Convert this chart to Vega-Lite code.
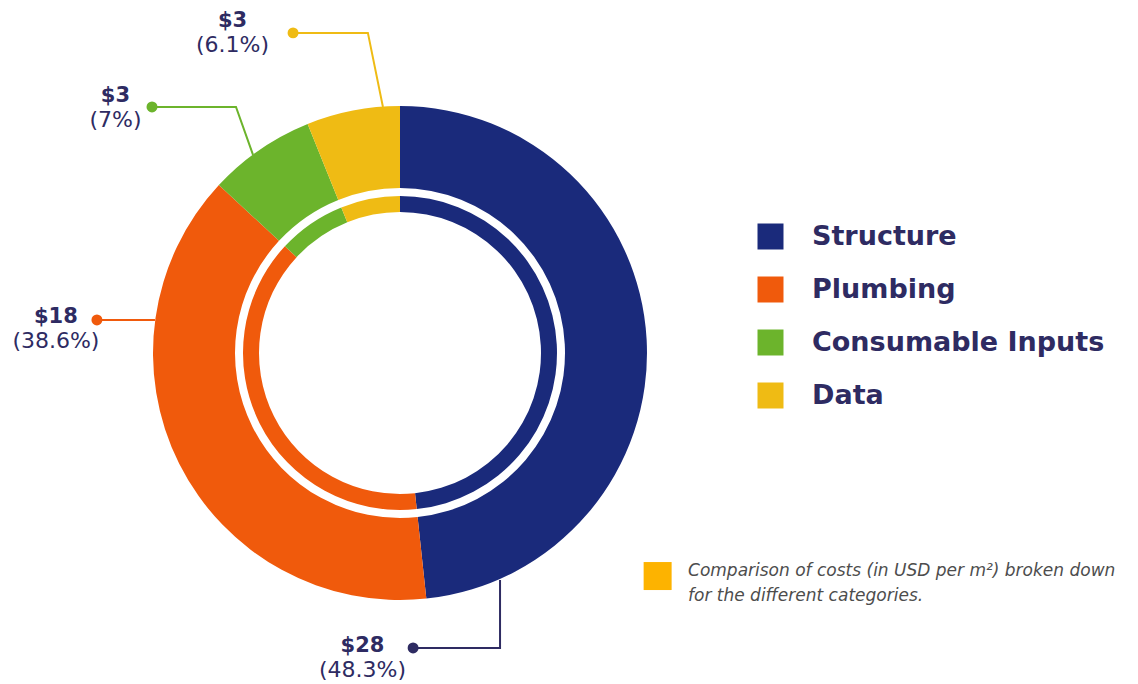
{
  "$schema": "https://vega.github.io/schema/vega-lite/v6.json",
  "width": 800,
  "height": 600,
  "autosize": {"type": "none"},
  "padding": {"left": 0, "top": 53, "right": 338, "bottom": 31},
  "background": "white",
  "config": {"view": {"stroke": null}, "font": "DejaVu Sans"},
  "datasets": {
    "costs": [
      {"category": "Structure", "cost": 28, "pct": 48.3},
      {"category": "Plumbing", "cost": 18, "pct": 38.6},
      {"category": "Consumable Inputs", "cost": 3, "pct": 7},
      {"category": "Data", "cost": 3, "pct": 6.1}
    ],
    "leaders": [
      {"category": "Data", "step": 0, "lx": -43.3, "ly": 129.6},
      {"category": "Data", "step": 1, "lx": -13.0, "ly": 129.6},
      {"category": "Data", "step": 2, "lx": -6.9, "ly": 99.6},
      {"category": "Consumable Inputs", "step": 0, "lx": -100.4, "ly": 99.6},
      {"category": "Consumable Inputs", "step": 1, "lx": -66.4, "ly": 99.6},
      {"category": "Consumable Inputs", "step": 2, "lx": -59.5, "ly": 80.2},
      {"category": "Plumbing", "step": 0, "lx": -122.7, "ly": 13.4},
      {"category": "Plumbing", "step": 1, "lx": -99.2, "ly": 13.4},
      {"category": "Structure", "step": 0, "lx": 5.3, "ly": -119.4},
      {"category": "Structure", "step": 1, "lx": 40.5, "ly": -119.4},
      {"category": "Structure", "step": 2, "lx": 40.5, "ly": -91.9}
    ],
    "labels": [
      {"category": "Data", "lx": -67.8, "ly": 129.4},
      {"category": "Consumable Inputs", "lx": -115.2, "ly": 99.0},
      {"category": "Plumbing", "lx": -139.3, "ly": 9.7},
      {"category": "Structure", "lx": -15.2, "ly": -123.5}
    ],
    "note": [
      {"text": "Comparison of costs (in USD per m²) broken down\nfor the different categories.", "boxx": 104.3, "boxy": -90.3, "tx": 116.6, "ty": -85.0}
    ]
  },
  "layer": [
    {
      "data": {"name": "costs"},
      "mark": {"type": "arc", "outerRadius": 247, "innerRadius": 165, "strokeWidth": 0},
      "encoding": {
        "theta": {"field": "pct", "type": "quantitative", "stack": true},
        "order": {"field": "pct", "sort": "descending"},
        "color": {
          "field": "category",
          "type": "nominal",
          "scale": {
            "domain": ["Structure", "Plumbing", "Consumable Inputs", "Data"],
            "range": ["#1a2a7b", "#f05a0c", "#6cb42c", "#efbb14"]
          },
          "legend": {
            "orient": "none",
            "legendX": 757,
            "legendY": 170,
            "title": null,
            "symbolType": "square",
            "symbolSize": 676,
            "symbolStrokeWidth": 0,
            "labelFontSize": 27,
            "labelFont": "DejaVu Sans",
            "labelFontWeight": "bold",
            "labelColor": "#2e2b62",
            "labelOffset": 28,
            "labelLimit": 500,
            "rowPadding": 25
          }
        }
      }
    },
    {
      "data": {"name": "costs"},
      "mark": {"type": "arc", "outerRadius": 157, "innerRadius": 141, "strokeWidth": 0},
      "encoding": {
        "theta": {"field": "pct", "type": "quantitative", "stack": true},
        "order": {"field": "pct", "sort": "descending"},
        "color": {"field": "category", "type": "nominal"}
      }
    },
    {
      "data": {"name": "leaders"},
      "mark": {"type": "line", "strokeWidth": 2},
      "encoding": {
        "x": {"field": "lx", "type": "quantitative", "scale": {"domain": [-161.94, 161.94], "nice": false, "zero": false}, "axis": null},
        "y": {"field": "ly", "type": "quantitative", "scale": {"domain": [-121.46, 121.46], "nice": false, "zero": false}, "axis": null},
        "order": {"field": "step", "type": "quantitative"},
        "stroke": {
          "field": "category",
          "type": "nominal",
          "scale": {
            "domain": ["Structure", "Plumbing", "Consumable Inputs", "Data"],
            "range": ["#2e2b62", "#f05a0c", "#6cb42c", "#efbb14"]
          },
          "legend": null
        }
      }
    },
    {
      "data": {"name": "leaders"},
      "transform": [{"filter": "datum.step == 0"}],
      "mark": {"type": "point", "filled": true, "shape": "circle", "size": 120, "opacity": 1},
      "encoding": {
        "x": {"field": "lx", "type": "quantitative", "scale": {"domain": [-161.94, 161.94], "nice": false, "zero": false}, "axis": null},
        "y": {"field": "ly", "type": "quantitative", "scale": {"domain": [-121.46, 121.46], "nice": false, "zero": false}, "axis": null},
        "fill": {
          "field": "category",
          "type": "nominal",
          "scale": {
            "domain": ["Structure", "Plumbing", "Consumable Inputs", "Data"],
            "range": ["#2e2b62", "#f05a0c", "#6cb42c", "#efbb14"]
          },
          "legend": null
        }
      }
    },
    {
      "data": {"name": "labels"},
      "transform": [
        {"lookup": "category", "from": {"data": {"name": "costs"}, "key": "category", "fields": ["cost", "pct"]}},
        {"calculate": "'$' + datum.cost", "as": "amount"}
      ],
      "mark": {"type": "text", "fontSize": 21, "fontWeight": "bold", "font": "DejaVu Sans", "color": "#2e2b62", "dy": -12, "align": "center", "baseline": "middle"},
      "encoding": {
        "x": {"field": "lx", "type": "quantitative", "scale": {"domain": [-161.94, 161.94], "nice": false, "zero": false}, "axis": null},
        "y": {"field": "ly", "type": "quantitative", "scale": {"domain": [-121.46, 121.46], "nice": false, "zero": false}, "axis": null},
        "text": {"field": "amount", "type": "nominal"}
      }
    },
    {
      "data": {"name": "labels"},
      "transform": [
        {"lookup": "category", "from": {"data": {"name": "costs"}, "key": "category", "fields": ["cost", "pct"]}},
        {"calculate": "'(' + datum.pct + '%)'", "as": "share"}
      ],
      "mark": {"type": "text", "fontSize": 22, "font": "DejaVu Sans", "color": "#2e2b62", "dy": 12, "align": "center", "baseline": "middle"},
      "encoding": {
        "x": {"field": "lx", "type": "quantitative", "scale": {"domain": [-161.94, 161.94], "nice": false, "zero": false}, "axis": null},
        "y": {"field": "ly", "type": "quantitative", "scale": {"domain": [-121.46, 121.46], "nice": false, "zero": false}, "axis": null},
        "text": {"field": "share", "type": "nominal"}
      }
    },
    {
      "data": {"name": "note"},
      "mark": {"type": "square", "size": 784, "color": "#fdb300", "opacity": 1, "filled": true},
      "encoding": {
        "x": {"field": "boxx", "type": "quantitative", "scale": {"domain": [-161.94, 161.94], "nice": false, "zero": false}, "axis": null},
        "y": {"field": "boxy", "type": "quantitative", "scale": {"domain": [-121.46, 121.46], "nice": false, "zero": false}, "axis": null}
      }
    },
    {
      "data": {"name": "note"},
      "mark": {"type": "text", "fontSize": 17, "fontStyle": "italic", "font": "DejaVu Sans", "color": "#4d4d4d", "align": "left", "baseline": "top", "lineBreak": "\n", "lineHeight": 25},
      "encoding": {
        "x": {"field": "tx", "type": "quantitative", "scale": {"domain": [-161.94, 161.94], "nice": false, "zero": false}, "axis": null},
        "y": {"field": "ty", "type": "quantitative", "scale": {"domain": [-121.46, 121.46], "nice": false, "zero": false}, "axis": null},
        "text": {"field": "text", "type": "nominal"}
      }
    }
  ]
}
